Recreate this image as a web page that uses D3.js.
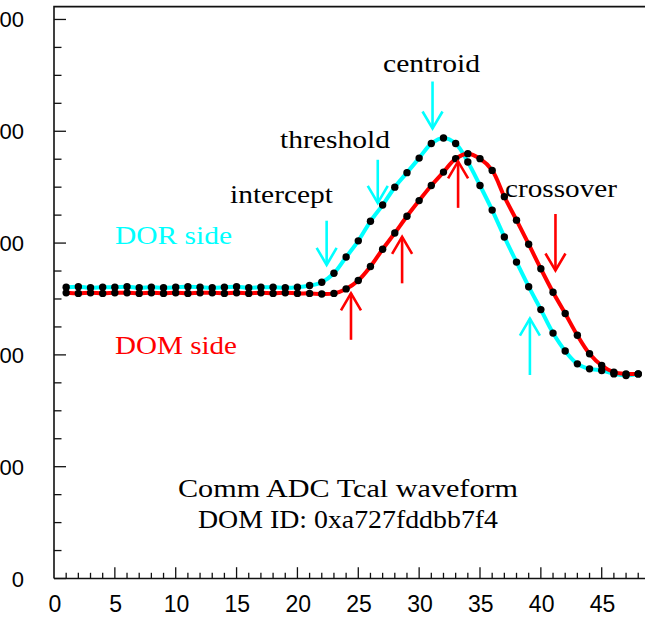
<!DOCTYPE html>
<html>
<head>
<meta charset="utf-8">
<script src="https://cdn.jsdelivr.net/npm/d3@7"></script>
<style>
  html, body { margin: 0; padding: 0; background: #fff; }
  svg { display: block; }
</style>
</head>
<body>
<svg id="chart" width="645" height="617"></svg>
<script>
// ---- data ----
const samples = d3.range(1, 49); // sample index 1..48
const dorSide = [521,522,520,521,521,522,520,521,520,521,522,521,520,521,522,520,521,521,520,521,
                 524,530,546,575,604,639,668,700,726,752,778,788,778,745,703,659,611,566,522,481,439,407,384,375,372,366,363,366];
const domSide = [511,510,511,510,511,511,510,511,510,511,510,511,511,510,511,510,511,510,511,510,
                 510,509,510,518,533,558,589,618,648,676,703,727,751,760,751,730,683,641,598,554,512,474,435,402,381,369,366,366];
const yTicks = [0, 200, 400, 600, 800, 1000];
const xTicks = [0, 5, 10, 15, 20, 25, 30, 35, 40, 45];
// arrows: x (sample), tail value, tip value
const dorArrowX    = [22.4, 26.6, 31.1, 39.1];
const dorArrowFrom = [640, 749, 889, 364];
const dorArrowTo   = [561, 672, 805, 465];
const domArrowX    = [24.4, 28.6, 33.2, 41.2];
const domArrowFrom = [427, 528, 663, 652];
const domArrowTo   = [510, 611, 746, 551];
const annotLabels = ["intercept", "threshold", "centroid", "crossover"];
const sideLabels = ["DOR side", "DOM side"];
const infoLines = ["Comm ADC Tcal waveform", "DOM ID: 0xa727fddbb7f4"];

// ---- layout ----
const svg = d3.select("#chart");
const x = d3.scaleLinear().domain([0, 49]).range([54, 650.4]);
const y = d3.scaleLinear().domain([0, 1023]).range([578.5, 6.6]);

const axisColor = "#111";
// frame (left + top)
svg.append("path")
  .attr("d", `M${x(0)},${y(0)}V${y(1023)}H${x(49)}`)
  .attr("fill", "none").attr("stroke", axisColor).attr("stroke-width", 1.6);
// bottom axis line
svg.append("line").attr("x1", x(0)).attr("x2", x(49)).attr("y1", y(0)).attr("y2", y(0))
  .attr("stroke", axisColor).attr("stroke-width", 1.6);

// y ticks
const yMinor = d3.range(0, 1001, 50);
svg.append("g").selectAll("line").data(yMinor).join("line")
  .attr("x1", x(0)).attr("x2", d => x(0) + (d % 200 === 0 ? 12 : 7.5))
  .attr("y1", d => y(d)).attr("y2", d => y(d))
  .attr("stroke", axisColor).attr("stroke-width", 1.3);
svg.append("g").selectAll("text").data(yTicks).join("text")
  .attr("x", 24).attr("y", d => y(d) + 8)
  .attr("text-anchor", "end")
  .attr("font-family", "Liberation Sans, Arial, sans-serif")
  .attr("font-size", 22)
  .attr("fill", "#000")
  .text(d => d);

// x ticks
const xMinor = d3.range(1, 49);
svg.append("g").selectAll("line").data(xMinor).join("line")
  .attr("x1", d => x(d)).attr("x2", d => x(d))
  .attr("y1", y(0)).attr("y2", d => y(0) - (d % 5 === 0 ? 11.3 : 5.7))
  .attr("stroke", axisColor).attr("stroke-width", 1.3);
svg.append("g").selectAll("text").data(xTicks).join("text")
  .attr("x", d => x(d) + 0.8).attr("y", 611.5)
  .attr("text-anchor", "middle")
  .attr("font-family", "Liberation Sans, Arial, sans-serif")
  .attr("font-size", 23)
  .attr("fill", "#000")
  .text(d => d);

// curves
const line = d3.line().x((d, i) => x(samples[i])).y(d => y(d)).curve(d3.curveCatmullRom.alpha(0.5));
svg.append("path").attr("d", line(dorSide)).attr("fill", "none")
  .attr("stroke", "#00ffff").attr("stroke-width", 4);
svg.append("path").attr("d", line(domSide)).attr("fill", "none")
  .attr("stroke", "#ff0000").attr("stroke-width", 4);

// markers
[dorSide, domSide].forEach(series => {
  svg.append("g").selectAll("circle").data(series).join("circle")
    .attr("cx", (d, i) => x(samples[i])).attr("cy", d => y(d))
    .attr("r", 3.7).attr("fill", "#000");
});

// arrows
function drawArrows(xs, from, to, color) {
  const g = svg.append("g").attr("stroke", color).attr("stroke-width", 2.6).attr("fill", "none");
  xs.forEach((xv, i) => {
    const px = x(xv), y0 = y(from[i]), y1 = y(to[i]);
    const dir = y1 > y0 ? 1 : -1;
    g.append("line").attr("x1", px).attr("x2", px).attr("y1", y0).attr("y2", y1);
    g.append("path").attr("d", `M${px - 10},${y1 - dir * 17}L${px},${y1}L${px + 10},${y1 - dir * 17}`);
  });
}
drawArrows(dorArrowX, dorArrowFrom, dorArrowTo, "#00ffff");
drawArrows(domArrowX, domArrowFrom, domArrowTo, "#ff0000");

// text annotations (pixel placements)
const serif = "Liberation Serif, Times New Roman, serif";
const annotPos = [[230, 203, 103], [280, 148, 110], [383, 72, 97], [505, 196.5, 112]];
annotLabels.forEach((t, i) => {
  svg.append("text").attr("x", annotPos[i][0]).attr("y", annotPos[i][1])
    .attr("font-family", serif).attr("font-size", 25).attr("fill", "#000")
    .attr("textLength", annotPos[i][2]).attr("lengthAdjust", "spacingAndGlyphs")
    .text(t);
});
const sidePos = [[115, 243.5, 117, "#00ffff"], [115, 354, 122, "#ff0000"]];
sideLabels.forEach((t, i) => {
  svg.append("text").attr("x", sidePos[i][0]).attr("y", sidePos[i][1])
    .attr("font-family", serif).attr("font-size", 25).attr("fill", sidePos[i][3])
    .attr("textLength", sidePos[i][2]).attr("lengthAdjust", "spacingAndGlyphs")
    .text(t);
});
const infoPos = [[178, 496.5, 340], [198, 528, 300]];
infoLines.forEach((t, i) => {
  svg.append("text").attr("x", infoPos[i][0]).attr("y", infoPos[i][1])
    .attr("font-family", serif).attr("font-size", 25).attr("fill", "#000")
    .attr("textLength", infoPos[i][2]).attr("lengthAdjust", "spacingAndGlyphs")
    .text(t);
});
</script>
</body>
</html>
